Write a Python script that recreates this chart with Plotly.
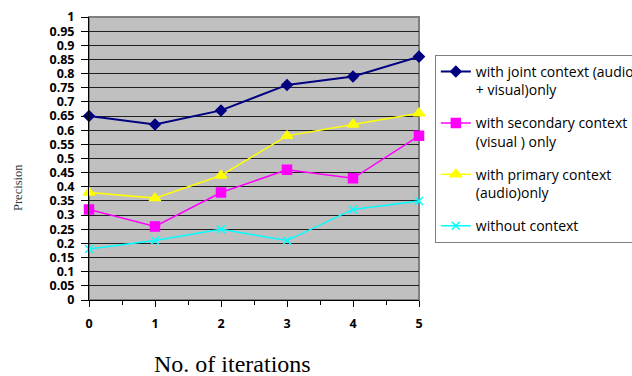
import plotly.graph_objects as go

iterations = [0, 1, 2, 3, 4, 5]
joint = [0.65, 0.62, 0.67, 0.76, 0.79, 0.86]
secondary = [0.32, 0.26, 0.38, 0.46, 0.43, 0.58]
primary = [0.38, 0.36, 0.44, 0.58, 0.62, 0.66]
without = [0.18, 0.21, 0.25, 0.21, 0.32, 0.35]

names = ["with joint context (audio<br>+ visual)only",
         "with secondary context<br>(visual ) only",
         "with primary context<br>(audio)only",
         "without context"]
y_ticks = [i * 0.05 for i in range(21)]
y_labels = ["0", "0.05", "0.1", "0.15", "0.2", "0.25", "0.3", "0.35", "0.4", "0.45", "0.5",
            "0.55", "0.6", "0.65", "0.7", "0.75", "0.8", "0.85", "0.9", "0.95", "1"]

fig = go.Figure()
styles = [
    (joint, "#000080", "diamond", 8, 2),
    (secondary, "#FF00FF", "square", 9, 1.5),
    (primary, "#FFFF00", "triangle-up", 10, 1.5),
    (without, "#00FFFF", "x-thin-open", 8, 1.5),
]
for i, ((vals, color, sym, size, lw), name) in enumerate(zip(styles, names)):
    fig.add_trace(go.Scatter(
        x=iterations, y=vals, name=name, mode="lines+markers",
        legendgroup="g%d" % i,
        line=dict(color=color, width=lw),
        marker=dict(symbol=sym, size=size, color=color, line=dict(color=color, width=1.5)),
        cliponaxis=False,
    ))

font_tick = dict(family="Open Sans", size=12.5, color="black", weight="bold")

fig.update_layout(
    width=632, height=376,
    margin=dict(l=89, r=213, t=17, b=76, autoexpand=False),
    paper_bgcolor="white",
    plot_bgcolor="#C0C0C0",
    showlegend=True,
    legend=dict(
        x=1.048, y=0.866, xanchor="left", yanchor="top",
        bordercolor="#808080", borderwidth=1, bgcolor="white",
        font=dict(family="Open Sans", size=14, color="black"),
        traceorder="grouped", tracegroupgap=12, valign="top", itemwidth=30,
    ),
    xaxis=dict(
        range=[0, 5], tickvals=iterations, ticks="outside", ticklen=6,
        tickcolor="black", showline=True, linecolor="black", linewidth=1,
        showgrid=False, zeroline=False, tickfont=font_tick, ticklabelstandoff=6,
        minor=dict(ticks="outside", ticklen=4, dtick=0.5, tickcolor="black", showgrid=False),
    ),
    yaxis=dict(
        range=[0, 1], tickvals=y_ticks, ticktext=y_labels, ticks="outside", ticklen=7,
        tickcolor="black", showline=True, linecolor="black", linewidth=1,
        showgrid=True, gridcolor="#202020", gridwidth=1, zeroline=False,
        tickfont=font_tick, ticklabelstandoff=4,
    ),
    shapes=[dict(type="rect", xref="paper", yref="paper", x0=0, x1=1, y0=0, y1=1,
                 line=dict(color="#808080", width=2), layer="below")],
    annotations=[
        dict(text="No. of iterations", xref="paper", yref="paper", x=(232 - 89) / 330,
             y=-(364 - 300) / 283, showarrow=False, xanchor="center", yanchor="middle",
             font=dict(family="Liberation Serif", size=24, color="black")),
        dict(text="Precision", xref="paper", yref="paper", x=-(89 - 18) / 330,
             y=(300 - 188) / 283, showarrow=False, textangle=-90,
             xanchor="center", yanchor="middle",
             font=dict(family="Liberation Serif", size=12.5, color="#333333")),
    ],
)

fig.write_html("out.html")
